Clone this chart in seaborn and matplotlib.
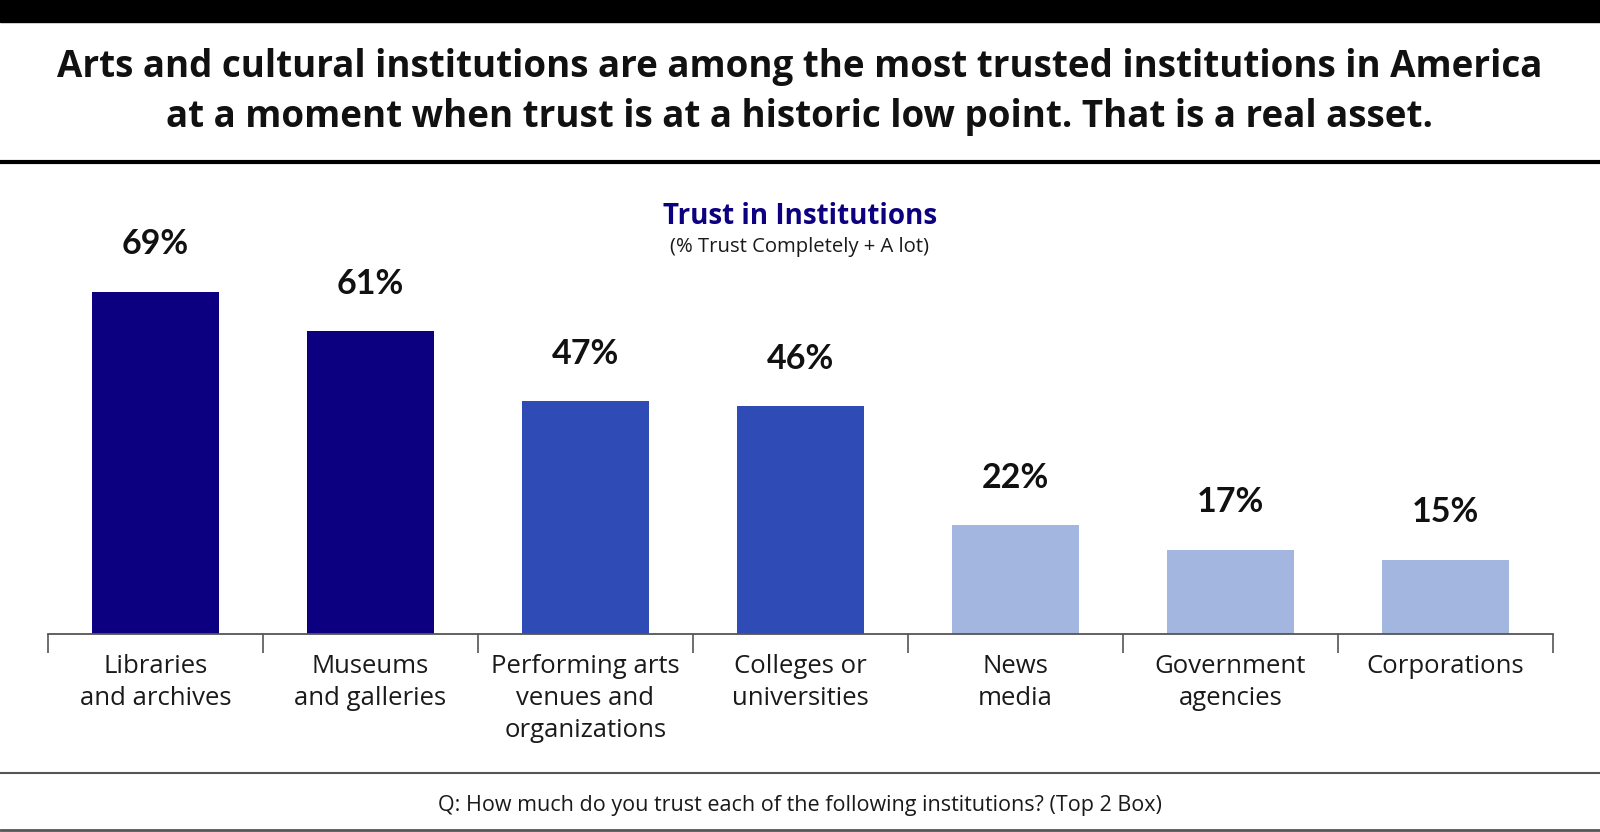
import matplotlib
matplotlib.use("Agg")
import matplotlib.pyplot as plt
import seaborn as sns
import pandas as pd
from matplotlib.lines import Line2D
from matplotlib.patches import Rectangle

# ----- Data -----
categories = [
    "Libraries\nand archives",
    "Museums\nand galleries",
    "Performing arts\nvenues and\norganizations",
    "Colleges or\nuniversities",
    "News\nmedia",
    "Government\nagencies",
    "Corporations",
]
trust_pct = [69, 61, 47, 46, 22, 17, 15]
bar_colors = ["#0D0080", "#0D0080", "#2F4BB6", "#2F4BB6", "#A3B6DF", "#A3B6DF", "#A3B6DF"]

title_text = ("Arts and cultural institutions are among the most trusted institutions in America\n"
              "at a moment when trust is at a historic low point. That is a real asset.")
chart_title = "Trust in Institutions"
chart_subtitle = "(% Trust Completely + A lot)"
footer_text = "Q: How much do you trust each of the following institutions? (Top 2 Box)"

df = pd.DataFrame({"institution": categories, "trust": trust_pct})

sns.set_style("white")
plt.rcParams["font.family"] = ["Open Sans", "DejaVu Sans"]

W, H = 1600, 832
fig = plt.figure(figsize=(16, 8.32), dpi=100)

# axes: baseline at y=634px, left 48px, right 1553px, 80% = 397px tall
ax = fig.add_axes([48 / W, (H - 634) / H, 1505 / W, 397 / H])
sns.barplot(data=df, x="institution", y="trust", hue="institution",
            palette=bar_colors, width=0.59, legend=False, ax=ax,
            saturation=1, linewidth=0)
ax.set_ylim(0, 80)
ax.set_xlim(-0.5, len(categories) - 0.5)

for i, v in enumerate(trust_pct):
    ax.annotate(f"{v}%", (i, v), xytext=(0, 34), textcoords="offset points",
                ha="center", va="center", fontsize=24.5, fontweight="bold",
                color="#111111", family=["Lato", "DejaVu Sans"])

# axis styling
for s in ["top", "right", "left"]:
    ax.spines[s].set_visible(False)
ax.spines["bottom"].set_color("#555555")
ax.spines["bottom"].set_linewidth(1.3)
ax.set_yticks([])
ax.set_xlabel("")
ax.set_ylabel("")
ax.set_xticks(range(len(categories)), categories, linespacing=1.36)
ax.set_xticks([x - 0.5 for x in range(len(categories) + 1)], minor=True)
ax.tick_params(axis="x", which="minor", bottom=True, length=14, width=1.2,
               color="#555555", direction="out")
ax.tick_params(axis="x", which="major", bottom=False, length=0, pad=14.5,
               labelsize=18.5, labelcolor="#1a1a1a")

# header bars and lines
fig.add_artist(Rectangle((0, 1 - 22 / H), 1, 22 / H, transform=fig.transFigure,
                         color="black", zorder=5))
fig.add_artist(Line2D([0, 1], [1 - 162 / H, 1 - 162 / H], transform=fig.transFigure,
                      color="black", linewidth=3))
fig.add_artist(Line2D([0, 1], [1 - 773 / H, 1 - 773 / H], transform=fig.transFigure,
                      color="#555555", linewidth=1.5))
fig.add_artist(Line2D([0, 1], [1 - 830 / H, 1 - 830 / H], transform=fig.transFigure,
                      color="#555555", linewidth=2))

fig.text(0.5, 1 - 92 / H, title_text, ha="center", va="center", fontsize=26.5,
         fontweight="bold", color="#111111", linespacing=1.42)
fig.text(0.5, 1 - 217 / H, chart_title, ha="center", va="center", fontsize=20,
         fontweight="bold", color="#0D0080")
fig.text(0.5, 1 - 247 / H, chart_subtitle, ha="center", va="center", fontsize=14.6,
         color="#1a1a1a")
fig.text(0.5, 1 - 805 / H, footer_text, ha="center", va="center", fontsize=15.5,
         color="#1a1a1a")

fig.savefig("out.png", dpi=100, facecolor="white")
